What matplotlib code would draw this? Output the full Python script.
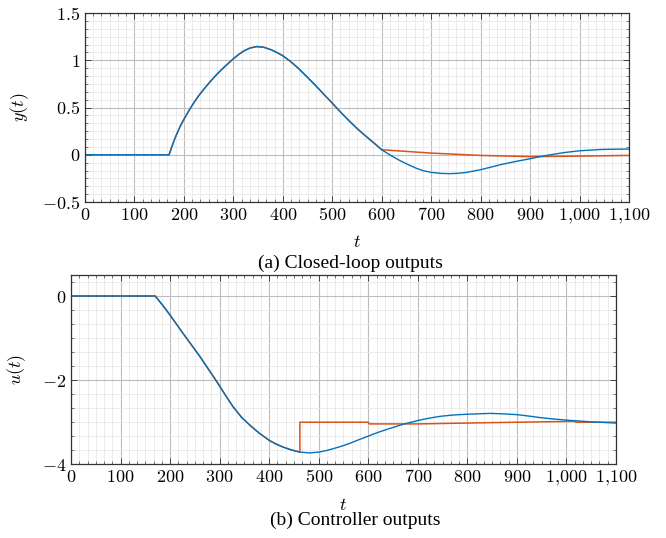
import numpy as np
import matplotlib
matplotlib.use("Agg")
import matplotlib.pyplot as plt
from matplotlib.ticker import MultipleLocator, FuncFormatter

plt.rcParams['mathtext.fontset'] = 'cm'
plt.rcParams['font.family'] = ['Liberation Serif', 'DejaVu Serif']

blue = '#0072BD'
red = '#D95319'

# closed-loop outputs y(t): common part up to t=600
t_y_common = [0, 170, 176, 182, 192, 200, 208, 215, 222, 229, 239, 249, 259, 269,
              284, 300, 310, 320, 333, 347, 362, 377, 388, 400, 415, 431, 448,
              465, 482, 500, 516, 532, 549, 566, 586, 600]
y_common = [0, 0, 0.09, 0.176, 0.295, 0.375, 0.448, 0.508, 0.565, 0.618, 0.685,
            0.748, 0.808, 0.864, 0.94, 1.016, 1.058, 1.095, 1.128, 1.145, 1.137,
            1.11, 1.082, 1.048, 0.99, 0.917, 0.83, 0.74, 0.645, 0.547, 0.456,
            0.370, 0.284, 0.205, 0.117, 0.053]
t_y_blue_tail = [620, 637, 655, 671, 685, 700, 720, 738, 755, 772, 800, 820, 840,
                 870, 900, 920, 941, 970, 1000, 1042, 1070, 1100]
y_blue_tail = [-0.012, -0.062, -0.108, -0.145, -0.17, -0.186, -0.197, -0.20,
               -0.196, -0.186, -0.158, -0.132, -0.105, -0.072, -0.042, -0.02, 0.0,
               0.024, 0.042, 0.056, 0.059, 0.06]
t_y_red_tail = [700, 800, 900, 1000, 1100]
y_red_tail = [0.018, -0.007, -0.02, -0.014, -0.007]

# controller outputs u(t): common part up to t=462
t_u_common = [0, 170, 185, 200, 226, 260, 290, 300, 314, 327, 344, 361, 380, 400,
              414, 428, 445, 462]
u_common = [0, 0, -0.22, -0.455, -0.886, -1.435, -1.96, -2.14, -2.40, -2.63,
            -2.88, -3.07, -3.26, -3.43, -3.52, -3.59, -3.66, -3.71]
t_u_blue_tail = [482, 500, 515, 529, 546, 563, 580, 600, 620, 643, 670, 700, 720,
                 745, 770, 800, 846, 870, 900, 925, 947, 975, 1000, 1049, 1100]
u_blue_tail = [-3.73, -3.71, -3.675, -3.63, -3.57, -3.50, -3.42, -3.33, -3.24,
               -3.15, -3.05, -2.96, -2.91, -2.86, -2.83, -2.81, -2.79, -2.80,
               -2.82, -2.855, -2.89, -2.925, -2.95, -2.99, -3.02]
t_u_red_tail = [462, 600, 602, 700, 800, 900, 1015, 1020, 1100]
u_red_tail = [-3.0, -3.0, -3.04, -3.04, -3.02, -3.0, -2.98, -3.0, -3.0]


def fmt_x(v, pos):
    s = '{:,.0f}'.format(v).replace(',', '{,}')
    return '$' + s + '$'


def fmt_y(v, pos):
    return '$%g$' % v


def style(ax, ymaj):
    ax.set_xlim(0, 1100)
    ax.xaxis.set_major_locator(MultipleLocator(100))
    ax.xaxis.set_minor_locator(MultipleLocator(100 / 6))
    ax.yaxis.set_major_locator(MultipleLocator(ymaj))
    ax.yaxis.set_minor_locator(MultipleLocator(ymaj / 6))
    ax.xaxis.set_major_formatter(FuncFormatter(fmt_x))
    ax.yaxis.set_major_formatter(FuncFormatter(fmt_y))
    ax.grid(which='major', color='#bdbdbd', lw=0.8)
    ax.grid(which='minor', color='#e9e9e9', lw=0.6)
    ax.set_axisbelow(True)
    ax.tick_params(which='both', direction='in', top=True, right=True,
                   labelsize=13, color='#404040')
    ax.tick_params(which='major', length=4, width=0.7)
    ax.tick_params(which='minor', length=2.5, width=0.5)
    for s in ax.spines.values():
        s.set_color('#333333')
        s.set_linewidth(0.9)
    ax.set_xlabel('$t$', fontsize=13, labelpad=6)


fig = plt.figure(figsize=(6.66, 5.38), dpi=100)

ax1 = fig.add_axes([0.1276, 0.6245, 0.8168, 0.3513])
ax1.plot(t_y_common + t_y_red_tail, y_common + y_red_tail, color=red, lw=1.1)
ax1.plot(t_y_common + t_y_blue_tail, y_common + y_blue_tail, color=blue, lw=1.0)
ax1.set_ylim(-0.5, 1.5)
style(ax1, 0.5)
ax1.set_ylabel('$y(t)$', fontsize=13, labelpad=8)
fig.text(0.526, 0.511, '(a) Closed-loop outputs', fontsize=14, ha='center', va='center')

ax2 = fig.add_axes([0.1066, 0.1370, 0.8183, 0.3519])
ax2.plot(t_u_common + t_u_red_tail, u_common + u_red_tail, color=red, lw=1.1)
ax2.plot(t_u_common + t_u_blue_tail, u_common + u_blue_tail, color=blue, lw=1.0)
ax2.set_ylim(-4, 0.5)
style(ax2, 2)
ax2.set_ylabel('$u(t)$', fontsize=13, labelpad=10)
fig.text(0.533, 0.032, '(b) Controller outputs', fontsize=14, ha='center', va='center')

fig.savefig('out.png', dpi=100)
